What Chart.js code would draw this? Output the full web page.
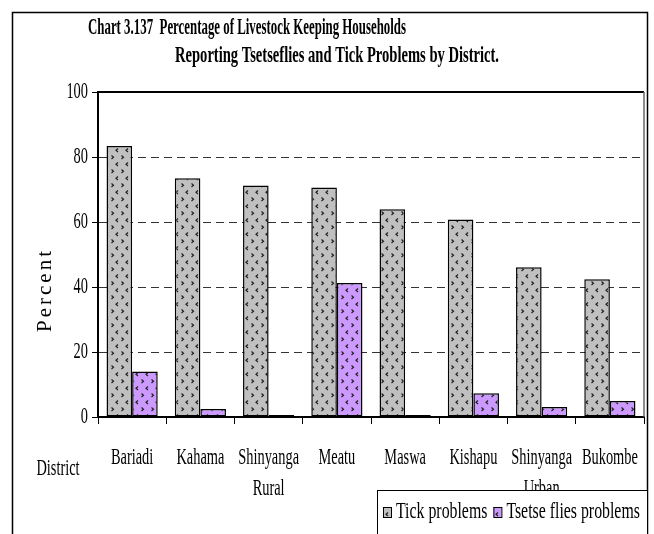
<!DOCTYPE html>
<html>
<head>
<meta charset="utf-8">
<script src="https://cdn.jsdelivr.net/npm/chart.js@4.4.1/dist/chart.umd.min.js"></script>
<style>
  html, body { margin: 0; padding: 0; background: #fff; }
  #wrap { width: 654px; height: 534px; }
</style>
</head>
<body>
<div id="wrap"><canvas id="chart" width="654" height="534"></canvas></div>
<script>
// data
const districts = [['Bariadi'], ['Kahama'], ['Shinyanga', 'Rural'], ['Meatu'], ['Maswa'], ['Kishapu'], ['Shinyanga', 'Urban'], ['Bukombe']];
const tickProblems = [83.4, 73.5, 71.2, 70.6, 63.9, 60.8, 46.1, 42.4];
const tsetseProblems = [14.0, 2.5, 0.6, 41.2, 0.6, 7.3, 3.1, 4.9];
const yTicks = [0, 20, 40, 60, 80, 100];
const seriesNames = ['Tick problems', 'Tsetse flies problems'];
const titleLines = ['Chart 3.137  Percentage of Livestock Keeping Households', 'Reporting Tsetseflies and Tick Problems by District.'];
const yTitle = 'Percent';
const xTitle = 'District';

const SERIF = '"Liberation Serif", "Times New Roman", serif';
const SQUEEZE = 0.6;

// small chevron fill like the old office pattern
function chevronPattern(bg) {
  const c = document.createElement('canvas');
  c.width = 10; c.height = 14;
  const g = c.getContext('2d');
  g.fillStyle = bg;
  g.fillRect(0, 0, 10, 14);
  g.strokeStyle = '#222';
  g.lineWidth = 1.2;
  g.beginPath(); g.moveTo(1.5, 1.5); g.lineTo(3.5, 3.2); g.lineTo(1.5, 5); g.stroke();
  g.beginPath(); g.moveTo(8, 8.5); g.lineTo(6, 10.2); g.lineTo(8, 12); g.stroke();
  return g.createPattern(c, 'repeat');
}
const grayFill = chevronPattern('#c0c0c0');
const purpleFill = chevronPattern('#cc99ff');

// draw text narrowed horizontally, either by factor or to a target width
function squeezeText(ctx, text, x, y, font, align, sx, width) {
  ctx.save();
  ctx.font = font;
  if (width) sx = width / ctx.measureText(text).width;
  ctx.fillStyle = '#000';
  ctx.textAlign = align;
  ctx.textBaseline = 'middle';
  ctx.translate(x, y);
  ctx.scale(sx, 1);
  ctx.fillText(text, 0, 0);
  ctx.restore();
}

function textWidth(ctx, text, font, sx) {
  ctx.save();
  ctx.font = font;
  const w = ctx.measureText(text).width * sx;
  ctx.restore();
  return w;
}

// frame, title, labels and legend
const decorations = {
  id: 'decorations',
  afterDraw(chart) {
    const ctx = chart.ctx;
    const area = chart.chartArea;
    const xs = chart.scales.x;
    const ys = chart.scales.y;

    ctx.save();
    // outer frame
    ctx.strokeStyle = '#000';
    ctx.lineWidth = 1.5;
    ctx.beginPath();
    ctx.moveTo(12.5, 540); ctx.lineTo(12.5, 12.5); ctx.lineTo(647.5, 12.5); ctx.lineTo(647.5, 540);
    ctx.stroke();
    // top and right of plot area
    ctx.lineWidth = 2;
    ctx.beginPath();
    ctx.moveTo(area.left, area.top); ctx.lineTo(area.right, area.top);
    ctx.stroke();
    ctx.strokeStyle = '#666';
    ctx.lineWidth = 1.5;
    ctx.beginPath();
    ctx.moveTo(area.right, area.top); ctx.lineTo(area.right, area.bottom);
    ctx.stroke();
    ctx.restore();

    // title
    const titleFont = 'bold 23px ' + SERIF;
    squeezeText(ctx, titleLines[0], 88, 28, titleFont, 'left', 1, 318);
    squeezeText(ctx, titleLines[1], 175, 56, titleFont, 'left', 1, 324);

    // y tick labels
    const tickFont = '24px ' + SERIF;
    yTicks.forEach(v => {
      squeezeText(ctx, String(v), area.left - 10, ys.getPixelForValue(v), tickFont, 'right', SQUEEZE);
    });

    // x category labels
    districts.forEach((lines, i) => {
      const cx = xs.getPixelForValue(i);
      lines.forEach((ln, j) => {
        squeezeText(ctx, ln, cx, 458 + j * 31, tickFont, 'center', SQUEEZE);
      });
    });

    squeezeText(ctx, xTitle, 58, 469, tickFont, 'center', SQUEEZE);

    // rotated y title, spaced letters
    ctx.save();
    ctx.font = '21px ' + SERIF;
    ctx.fillStyle = '#000';
    ctx.letterSpacing = '3px';
    ctx.textAlign = 'center';
    ctx.textBaseline = 'middle';
    ctx.translate(45, 290);
    ctx.rotate(-Math.PI / 2);
    ctx.fillText(yTitle, 0, 0);
    ctx.restore();

    // legend box
    ctx.save();
    ctx.fillStyle = '#fff';
    ctx.fillRect(377, 490, 270, 50);
    ctx.strokeStyle = '#000';
    ctx.lineWidth = 1;
    ctx.strokeRect(377.5, 490.5, 270, 60);
    ctx.restore();

    const fills = [grayFill, purpleFill];
    const legendSqueeze = 0.66;
    let lx = 383;
    const ly = 512;
    seriesNames.forEach((name, i) => {
      ctx.save();
      ctx.fillStyle = fills[i];
      ctx.fillRect(lx, ly - 5, 8, 10);
      ctx.strokeStyle = '#000';
      ctx.lineWidth = 1;
      ctx.strokeRect(lx + 0.5, ly - 4.5, 8, 10);
      ctx.restore();
      squeezeText(ctx, name, lx + 13, ly, tickFont, 'left', legendSqueeze);
      lx += 13 + textWidth(ctx, name, tickFont, legendSqueeze) + 6;
    });
  }
};

new Chart(document.getElementById('chart'), {
  type: 'bar',
  data: {
    labels: districts,
    datasets: [
      {
        label: seriesNames[0],
        data: tickProblems,
        backgroundColor: grayFill,
        borderColor: '#000',
        borderWidth: 1.5,
        borderSkipped: false,
        categoryPercentage: 0.75,
        barPercentage: 1.0
      },
      {
        label: seriesNames[1],
        data: tsetseProblems,
        backgroundColor: purpleFill,
        borderColor: '#000',
        borderWidth: 1.5,
        borderSkipped: false,
        categoryPercentage: 0.75,
        barPercentage: 1.0
      }
    ]
  },
  options: {
    responsive: false,
    devicePixelRatio: 1,
    animation: false,
    layout: { padding: { left: 98, top: 92, right: 10, bottom: 117 } },
    plugins: {
      legend: { display: false },
      title: { display: false },
      tooltip: { enabled: false }
    },
    scales: {
      x: {
        afterFit(scale) { scale.height = 0; },
        ticks: { display: false },
        grid: {
          display: true,
          drawOnChartArea: false,
          drawTicks: true,
          tickLength: 7,
          tickColor: '#000',
          offset: true
        },
        border: { display: true, color: '#000', width: 2 }
      },
      y: {
        min: 0,
        max: 100,
        afterFit(scale) { scale.width = 0; },
        ticks: { display: false, stepSize: 20 },
        grid: {
          color: c => (c.tick && (c.tick.value === 0 || c.tick.value === 100)) ? 'rgba(0,0,0,0)' : '#333',
          lineWidth: 1,
          drawTicks: true,
          tickLength: 6,
          tickColor: '#000',
          tickBorderDash: []
        },
        border: { display: true, color: '#000', width: 2, dash: [8, 5] }
      }
    }
  },
  plugins: [decorations]
});
</script>
</body>
</html>
